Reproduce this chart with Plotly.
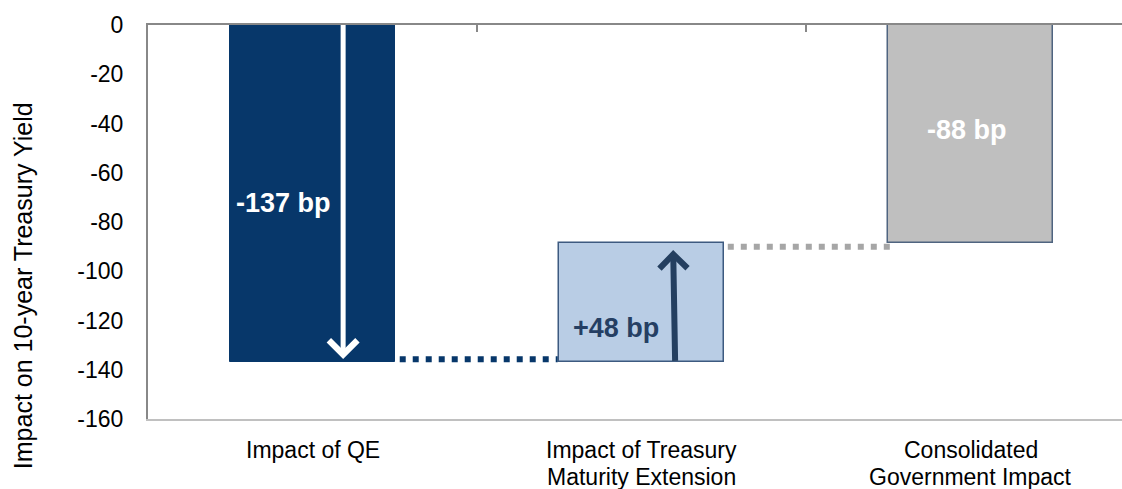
import plotly.graph_objects as go

# waterfall data (bp)
categories = ["Impact of QE", "Impact of Treasury<br>Maturity Extension",
              "Consolidated<br>Government Impact"]
qe_impact = -137
extension_impact = 48.5
consolidated = qe_impact + extension_impact
bar_labels = ["-137 bp", "+48 bp", "-88 bp"]
y_ticks = [0, -20, -40, -60, -80, -100, -120, -140, -160]
y_ticktext = ["0", "-20", "-40", "-60", "-80", "-100", "-120", "-140", "-160"]

x_pos = [0, 1, 2]
bar_width = 0.5

fig = go.Figure()

# Impact of QE
fig.add_trace(go.Bar(
    x=[x_pos[0]], y=[qe_impact], base=0, width=bar_width,
    marker=dict(color="#07376A", line=dict(color="#07376A", width=1)),
    hoverinfo="skip",
))
# Maturity extension (floating)
fig.add_trace(go.Bar(
    x=[x_pos[1]], y=[extension_impact], base=qe_impact, width=bar_width,
    marker=dict(color="#B9CDE5", line=dict(color="#3D5A80", width=1.5)),
    hoverinfo="skip",
))
# Consolidated
fig.add_trace(go.Bar(
    x=[x_pos[2]], y=[consolidated], base=0, width=bar_width,
    marker=dict(color="#BFBFBF", line=dict(color="#4F6480", width=1.5)),
    hoverinfo="skip",
))

# dotted connectors between bars
fig.add_trace(go.Scatter(
    x=[x_pos[0] + bar_width / 2 + 0.015, x_pos[1] - bar_width / 2 - 0.005],
    y=[qe_impact + 1.3, qe_impact + 1.3], mode="lines",
    line=dict(color="#07376A", width=6, dash="6px,7px"), hoverinfo="skip",
))
fig.add_trace(go.Scatter(
    x=[x_pos[1] + bar_width / 2 + 0.012, x_pos[2] - bar_width / 2 + 0.01],
    y=[consolidated - 1.5, consolidated - 1.5], mode="lines",
    line=dict(color="#A6A6A6", width=6, dash="6px,7px"), hoverinfo="skip",
))

# top axis line with inside ticks between categories
fig.add_trace(go.Scatter(x=[None], y=[None], xaxis="x2", showlegend=False,
                         hoverinfo="skip"))

# arrows
fig.add_annotation(x=0.093, y=-135.6, ax=0.093, ay=0.6, xref="x", yref="y",
                   axref="x", ayref="y", text="", showarrow=True,
                   arrowhead=4, arrowsize=1.1, arrowwidth=5, arrowcolor="white",
                   standoff=0)
fig.add_annotation(x=1.096, y=-91.4, ax=1.102, ay=qe_impact, xref="x", yref="y",
                   axref="x", ayref="y", text="", showarrow=True,
                   arrowhead=4, arrowsize=0.9, arrowwidth=6,
                   arrowcolor="#243F60", standoff=0)

# bar value labels
label_x = [-0.087, 0.921, 1.99]
label_y = [-72.3, -123, -42.6]
label_colors = ["white", "#253F63", "white"]
for lx, ly, txt, col in zip(label_x, label_y, bar_labels, label_colors):
    fig.add_annotation(x=lx, y=ly, text="<b>" + txt + "</b>", showarrow=False,
                       font=dict(size=27, color=col, family="Liberation Sans"))

# category labels, one annotation per line for tighter line spacing
for cx, cat in zip(x_pos, categories):
    for i, line in enumerate(cat.split("<br>")):
        fig.add_annotation(x=cx, y=0, xref="x", yref="paper", text=line,
                           showarrow=False, xanchor="center", yanchor="top",
                           yshift=-16 - 27 * i,
                           font=dict(size=23, color="black",
                                     family="Liberation Sans"))

# y axis title
fig.add_annotation(xref="paper", yref="paper", x=-0.129, y=0.338,
                   xanchor="center", yanchor="middle",
                   text="Impact on 10-year Treasury Yield", textangle=-90,
                   showarrow=False,
                   font=dict(size=25, color="black", family="Liberation Sans"))

fig.update_layout(
    width=1122, height=489,
    margin=dict(l=148, r=0, t=25, b=70),
    plot_bgcolor="white", paper_bgcolor="white",
    showlegend=False,
    font=dict(family="Liberation Sans", size=23, color="black"),
    xaxis=dict(range=[-0.5, 2.46], tickvals=x_pos, showticklabels=False,
               showline=True, linecolor="#C0C0C0", linewidth=1.5,
               ticks="", showgrid=False, zeroline=False, automargin=False),
    xaxis2=dict(overlaying="x", side="top", anchor="y", range=[-0.5, 2.46],
                showline=True, linecolor="#888888", linewidth=2,
                ticks="inside", ticklen=7, tickwidth=2, tickcolor="#888888",
                tickvals=[0.5, 1.5], showticklabels=False, showgrid=False,
                zeroline=False, automargin=False),
    yaxis=dict(range=[-160, 0], tickvals=y_ticks, ticktext=y_ticktext,
               showline=True, linecolor="#888888", linewidth=2,
               ticks="", showgrid=False, zeroline=False,
               ticklabelstandoff=18, automargin=False),
    bargap=0,
)

fig.write_html("out.html", config={"displayModeBar": False},
               post_script="document.body.style.margin='0';")
